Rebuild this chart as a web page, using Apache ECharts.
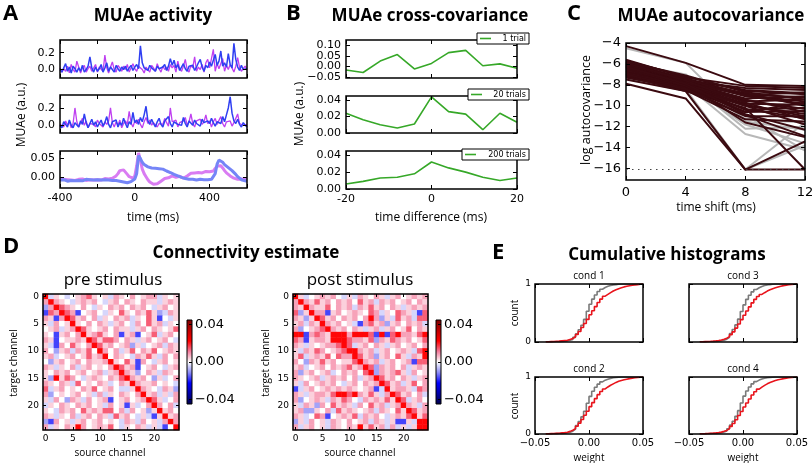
<!DOCTYPE html>
<html>
<head>
<meta charset="utf-8">
<script src="https://cdn.jsdelivr.net/npm/echarts@6/dist/echarts.min.js"></script>
<style>
  html, body { margin: 0; padding: 0; background: #fff; }
  #chart { width: 812px; height: 463px; }
</style>
</head>
<body>
<div id="chart"></div>
<script>
// ---------- A: MUAe activity (time in ms, 10 ms samples) ----------
var timeMs = [
  -400,-390,-380,-370,-360,-350,-340,-330,-320,-310,
  -300,-290,-280,-270,-260,-250,-240,-230,-220,-210,
  -200,-190,-180,-170,-160,-150,-140,-130,-120,-110,
  -100,-90,-80,-70,-60,-50,-40,-30,-20,-10,
  0,10,20,30,40,50,60,70,80,90,
  100,110,120,130,140,150,160,170,180,190,
  200,210,220,230,240,250,260,270,280,290,
  300,310,320,330,340,350,360,370,380,390,
  400,410,420,430,440,450,460,470,480,490,
  500,510,520,530,540,550,560,570,580,590,
  600
];
var trial1Magenta = [
  0.02,-0.03,0.01,-0.02,0.04,-0.04,0.06,0.00,-0.03,0.10,
  0.03,-0.04,0.02,0.05,-0.03,0.01,0.04,-0.02,0.00,0.06,
  -0.03,0.03,0.01,-0.02,0.17,0.02,-0.04,0.03,0.09,0.00,
  -0.03,0.05,0.02,-0.02,0.04,0.00,0.06,-0.03,0.02,0.07,
  0.01,-0.02,0.04,0.06,0.00,-0.04,0.03,0.01,-0.03,0.05,
  0.02,-0.02,0.07,0.01,-0.03,0.04,0.00,0.03,-0.02,0.06,
  0.02,0.05,-0.03,0.10,0.01,-0.02,0.04,0.12,0.00,-0.03,
  0.05,0.02,0.15,-0.02,0.03,0.00,0.06,-0.03,0.08,0.12,
  0.02,0.04,0.24,-0.02,0.07,0.01,0.03,0.13,-0.02,0.05,
  0.00,0.06,0.02,-0.03,0.04,0.14,0.03,-0.02,0.01,0.04,
  0.00
];
var trial1Blue = [
  0.00,-0.03,0.02,0.07,-0.02,0.03,-0.04,0.04,0.01,-0.03,
  0.02,-0.02,0.05,-0.03,0.00,0.04,0.15,0.02,-0.03,0.03,
  -0.02,0.01,0.06,-0.03,0.02,0.08,-0.02,0.03,0.00,-0.03,
  0.05,0.01,-0.02,0.03,0.00,0.04,-0.02,0.02,0.05,-0.01,
  0.03,0.06,0.01,0.28,0.08,0.02,0.04,-0.01,0.05,0.02,
  0.03,-0.02,0.04,0.01,0.00,0.03,0.06,-0.01,0.04,0.13,
  0.05,0.11,0.02,0.06,-0.01,0.03,0.07,0.01,-0.02,0.04,
  0.02,0.05,-0.01,0.03,0.08,0.12,0.03,-0.02,0.05,0.02,
  0.09,0.04,0.06,0.18,0.05,0.10,0.22,0.04,0.08,0.03,
  0.19,0.06,0.02,0.31,0.12,0.03,-0.01,0.05,0.00,-0.02,
  0.01
];
var trial2Magenta = [
  0.01,0.03,-0.02,0.05,0.00,0.04,-0.03,0.02,0.20,0.04,
  -0.02,0.03,0.08,0.00,0.05,-0.03,0.02,0.04,0.01,-0.02,
  0.06,0.02,0.03,-0.02,0.04,0.01,0.05,0.20,0.03,-0.02,
  0.04,0.00,0.06,-0.03,0.02,0.05,0.01,0.16,0.03,-0.02,
  0.05,0.02,0.07,0.01,-0.03,0.04,0.09,0.02,0.06,0.00,
  0.03,0.05,-0.02,0.02,0.04,0.01,0.08,0.03,-0.01,0.20,
  0.04,0.02,0.06,-0.02,0.03,0.01,0.05,0.09,0.00,0.04,
  0.13,0.02,-0.02,0.05,0.03,0.07,0.01,0.04,0.12,0.02,
  0.05,-0.02,0.04,0.08,0.01,0.03,0.10,0.02,-0.02,0.04,
  0.02,0.05,-0.01,0.03,0.01,0.13,0.02,0.04,0.00,-0.02,
  0.01
];
var trial2Blue = [
  0.00,-0.03,0.04,0.01,-0.02,0.06,0.00,-0.03,0.03,0.02,
  -0.02,0.05,0.01,0.13,0.03,-0.03,0.02,0.07,0.00,0.04,
  -0.02,0.02,0.06,-0.01,0.03,0.10,0.01,-0.03,0.04,0.02,
  0.06,-0.02,0.03,0.00,0.08,0.02,-0.03,0.04,0.01,0.15,
  0.03,0.06,0.01,0.09,0.04,0.12,0.22,0.05,0.01,0.07,
  0.02,-0.02,0.04,0.08,0.01,-0.02,0.05,0.03,0.10,0.02,
  -0.02,0.04,0.06,0.01,0.03,0.00,0.09,0.02,-0.02,0.05,
  0.03,0.00,0.06,0.02,0.04,-0.01,0.07,0.03,0.01,0.05,
  0.02,0.08,0.03,-0.01,0.04,0.06,0.02,0.10,0.04,0.12,
  0.20,0.33,0.14,0.05,0.02,0.07,0.01,-0.02,0.03,0.00,
  -0.02
];
var meanMagenta = [
  -0.004,-0.007,-0.005,-0.008,-0.006,-0.004,-0.007,-0.005,-0.008,-0.006,
  -0.005,-0.007,-0.004,-0.006,-0.008,-0.005,-0.006,-0.004,-0.007,-0.005,
  -0.006,-0.004,-0.007,-0.005,-0.003,-0.006,-0.004,-0.005,-0.002,0.000,
  0.004,0.010,0.018,0.022,0.020,0.016,0.008,0.002,-0.003,-0.002,
  0.004,0.030,0.065,0.045,0.022,0.010,0.002,-0.006,-0.012,-0.016,
  -0.018,-0.019,-0.017,-0.014,-0.010,-0.006,-0.003,-0.002,-0.001,0.002,
  0.004,0.002,0.000,0.001,0.003,0.000,-0.002,0.001,0.004,0.008,
  0.011,0.013,0.012,0.014,0.013,0.015,0.012,0.014,0.016,0.013,
  0.015,0.014,0.017,0.024,0.030,0.033,0.031,0.025,0.018,0.012,
  0.008,0.004,0.001,-0.002,-0.004,-0.005,-0.006,-0.004,-0.006,-0.005,
  -0.006
];
var meanBlue = [
  -0.007,-0.009,-0.006,-0.008,-0.010,-0.007,-0.008,-0.006,-0.009,-0.007,
  -0.008,-0.006,-0.009,-0.007,-0.005,-0.008,-0.006,-0.009,-0.007,-0.008,
  -0.006,-0.008,-0.007,-0.009,-0.006,-0.008,-0.007,-0.005,-0.008,-0.007,
  -0.008,-0.009,-0.010,-0.011,-0.012,-0.013,-0.014,-0.013,-0.011,-0.008,
  -0.004,0.010,0.058,0.050,0.040,0.034,0.030,0.028,0.027,0.025,
  0.026,0.024,0.025,0.023,0.021,0.022,0.019,0.017,0.015,0.013,
  0.010,0.008,0.006,0.004,0.002,0.000,-0.002,-0.003,-0.004,-0.005,
  -0.006,-0.005,-0.006,-0.007,-0.006,-0.005,-0.007,-0.006,-0.005,-0.006,
  -0.007,-0.005,-0.002,0.010,0.035,0.046,0.044,0.040,0.034,0.030,
  0.026,0.022,0.018,0.014,0.008,0.002,-0.003,-0.006,-0.008,-0.009,
  -0.010
];

// ---------- B: cross-covariance ----------
var lagMs = [-20,-16,-12,-8,-4,0,4,8,12,16,20];
var cov1Trial = [-0.017,-0.029,0.025,0.056,-0.012,0.014,0.065,0.076,0.003,0.012,-0.009];
var cov20Trials = [0.024,0.016,0.010,0.006,0.011,0.044,0.026,0.023,0.004,0.024,0.013];
var cov200Trials = [0.006,0.009,0.013,0.014,0.018,0.032,0.025,0.020,0.014,0.010,0.013];

// ---------- C: log autocovariance per channel ----------
var shiftMs = [0,4,8,12];
var autocovDark = [
  [-4.3,-5.9,-8.0,-8.1],[-5.6,-7.3,-8.1,-8.3],[-5.8,-7.5,-8.5,-8.8],[-5.9,-7.4,-8.9,-9.2],
  [-6.0,-7.6,-8.3,-8.5],[-6.1,-7.7,-9.0,-9.6],[-6.2,-7.6,-8.8,-10.0],[-6.3,-7.8,-9.3,-9.1],
  [-6.4,-7.9,-9.5,-10.3],[-6.5,-8.0,-9.8,-9.9],[-6.6,-8.1,-10.0,-10.8],[-6.7,-8.2,-10.3,-11.2],
  [-6.8,-8.0,-9.6,-9.4],[-6.9,-8.3,-10.6,-10.5],[-7.0,-8.4,-11.0,-11.0],[-7.2,-8.5,-11.3,-11.5],
  [-7.1,-8.6,-10.2,-16.1],[-7.5,-8.6,-16.1,-13.4],[-7.9,-9.3,-16.1,-16.1],[-6.0,-7.9,-11.6,-13.0],
  [-5.7,-7.2,-8.6,-8.9],[-6.1,-7.5,-9.1,-9.8],[-6.5,-7.7,-9.4,-10.6],[-5.8,-7.1,-8.7,-9.4],
  [-6.9,-8.1,-9.9,-11.0],[-6.2,-8.0,-10.4,-10.2],[-7.0,-8.3,-10.0,-11.8],[-6.6,-7.8,-9.0,-8.7],
  [-7.3,-8.4,-10.9,-12.9],[-5.9,-7.6,-9.7,-11.3],[-6.4,-8.1,-10.6,-9.7],[-6.3,-7.9,-10.8,-12.3]
];
var autocovGray = [
  [-5.9,-7.0,-11.3,-11.6],[-6.3,-7.6,-12.2,-12.0],[-6.8,-8.0,-12.7,-14.2],[-7.1,-8.4,-16.1,-11.6],
  [-7.4,-8.6,-16.1,-13.8],[-4.5,-5.9,-11.5,-12.3],[-6.6,-7.9,-11.8,-13.6],[-6.2,-7.7,-10.9,-14.3]
];
var floorLevel = -16.1;

// ---------- D: connectivity (25 x 25), one string per target channel ----------
var channels = [0,1,2,3,4,5,6,7,8,9,10,11,12,13,14,15,16,17,18,19,20,21,22,23,24];
var levelValue = { B: -0.017, b: -0.009, c: -0.004, '0': 0, '1': 0.004, '2': 0.008, '3': 0.014, '4': 0.022 };
var preRows = [
  '4c10c 01231 01c21 02012 2c101','24210 c1212 0c120 21021 1c121','b2432 1020c 10212 02120 c1201',
  'B3243 2B012 0c103 10213 1bc21','21B24 31202 c1021 2c103 1B0c1','1c201 41020 21c12 0c203 12c10',
  '012c1 24310 12021 1c120 21013','10B12 02412 3102B 12B01 3c120','21B01 12143 13320 21c12 0120c',
  '1cB20 31024 31201 2b1c0 12c21','20b12 c2130 4202c 13021 30121','12c01 20131 24021 0c213 1c202',
  '0b120 12021 12410 31B20 c1201','21c10 2c120 10243 12B01 20c12','10212 01201 2c124 21b02 1c210',
  '1b413 20c12 10213 42120 b1c02','21021 c3010 21c02 14211 2010c','3c120 10213 0120c c1421 0c21b',
  '2b010 1201c 2c102 10241 2c1c2','1c20b 21c20 12B01 20124 31c02','c1021 02120 1c201 B1c02 4202c',
  '10c21 20312 13302 c201b 14120','21c10 2c120 21c31 20c1c B1412','bB201 c1201 2010c 21c20 1c242',
  '2c102 14201 2130c 1021c 1cB04'
];
var postRows = [
  '41c01 2120c 1c210 21c12 01212','24213 12021 20312 c2120 12021','21421 13021 2c213 12021 c1212',
  '3b142 2B120 12103 2c103 21cB3','21b14 31202 12024 2b1c3 12c33','12c21 42120 1cB23 12b12 0212c',
  '2b012 34212 021c1 2c120 13021','44B23 21444 24443 B4B34 22134','32B12 21444 32213 b2132 12013',
  '21c10 12234 3c120 21c12 01202','1c213 20123 44212 c1201 21c34','13c12 13032 24312 b1203 1c214',
  '20b21 31201 13421 2c120 12B33','12c01 20212 31243 b2120 2c121','2b120 12c02 12034 b2123 1c201',
  '21012 c1212 02c12 43120 21c12','1c201 2120c 12021 24312 c1302','Bc120 12121 21012 Bc412 21c32',
  '21c12 21344 34213 1c243 1202c','2b012 1c213 20c21 21314 3c120','1c21b 20312 1c203 12c12 421c2',
  '12bb1 02c31 21012 c2103 14312','21c03 2B012 13c21 20c12 13413','b1c20 1c210 2012c 21c1B B1c44',
  '2c120 1c210 21413 12c2c 1c144'
];
var colorbarTicks = [-0.04, 0, 0.04];

// ---------- E: cumulative histograms of weights ----------
var weightBins = [-0.04,-0.0375,-0.035,-0.0325,-0.03,-0.0275,-0.025,-0.0225,-0.02,-0.0175,-0.015,-0.0125,-0.01,-0.0075,-0.005,-0.0025,0,0.0025,0.005,0.0075,0.01,0.0125,0.015,0.0175,0.02,0.0225,0.025,0.0275,0.03,0.0325,0.035,0.0375,0.04,0.0425,0.045,0.0475,0.05];
var cond1Gray = [0.002,0.003,0.004,0.005,0.007,0.010,0.014,0.020,0.030,0.045,0.080,0.140,0.210,0.290,0.390,0.530,0.650,0.740,0.810,0.870,0.910,0.940,0.960,0.975,0.985,0.990,0.995,1,1,1,1,1,1,1,1,1,1];
var cond1Red = [0.005,0.007,0.009,0.012,0.015,0.020,0.025,0.030,0.045,0.060,0.090,0.130,0.180,0.250,0.320,0.390,0.470,0.540,0.610,0.680,0.740,0.790,0.820,0.850,0.880,0.900,0.920,0.935,0.950,0.960,0.970,0.980,0.985,0.990,0.995,1,1];
var cond2Gray = [0.002,0.003,0.004,0.006,0.008,0.011,0.015,0.022,0.032,0.050,0.085,0.150,0.220,0.300,0.400,0.540,0.660,0.750,0.820,0.875,0.915,0.945,0.962,0.976,0.986,0.992,0.996,1,1,1,1,1,1,1,1,1,1];
var cond2Red = [0.004,0.006,0.008,0.011,0.014,0.019,0.024,0.032,0.046,0.065,0.095,0.135,0.190,0.255,0.330,0.400,0.480,0.550,0.620,0.690,0.745,0.790,0.825,0.855,0.880,0.905,0.925,0.940,0.952,0.962,0.972,0.980,0.986,0.991,0.995,1,1];
var cond3Gray = [0.002,0.003,0.004,0.005,0.007,0.010,0.015,0.021,0.031,0.048,0.082,0.145,0.215,0.295,0.395,0.525,0.640,0.735,0.805,0.865,0.905,0.935,0.958,0.974,0.984,0.990,0.995,1,1,1,1,1,1,1,1,1,1];
var cond3Red = [0.005,0.007,0.009,0.012,0.016,0.021,0.027,0.034,0.048,0.064,0.092,0.128,0.175,0.240,0.310,0.385,0.460,0.535,0.605,0.675,0.735,0.785,0.820,0.850,0.878,0.900,0.920,0.936,0.950,0.962,0.972,0.980,0.986,0.991,0.995,1,1];
var cond4Gray = [0.002,0.003,0.004,0.006,0.008,0.011,0.016,0.023,0.034,0.052,0.090,0.155,0.225,0.310,0.410,0.545,0.665,0.755,0.825,0.880,0.918,0.946,0.964,0.977,0.987,0.992,0.996,1,1,1,1,1,1,1,1,1,1];
var cond4Red = [0.004,0.006,0.009,0.012,0.015,0.020,0.026,0.033,0.047,0.063,0.094,0.133,0.185,0.250,0.325,0.395,0.475,0.545,0.615,0.685,0.742,0.788,0.822,0.852,0.880,0.902,0.922,0.938,0.951,0.961,0.971,0.980,0.986,0.991,0.995,1,1];

// ---------- helpers ----------
var tickFont = 'DejaVu Sans';
var grids = [], xAxes = [], yAxes = [], series = [], graphics = [];

function minus(s) { return s.replace('-', '\u2212'); }
function fmt(d, uni) { return function (v) { var s = (+v).toFixed(d); return uni ? minus(s) : s; }; }

function valAxis(gi, pos, o, withLabel, labels) {
  var lab = labels || o.labels;
  return {
    type: 'value', gridIndex: gi, position: pos, min: o.min, max: o.max, z: 5,
    axisLine: { show: false, onZero: false }, splitLine: { show: false },
    axisTick: { show: !labels, inside: true, length: o.tickLen || 4, customValues: o.ticks, lineStyle: { color: '#000', width: 1 } },
    axisLabel: {
      show: !!(withLabel && lab), customValues: lab || o.ticks, formatter: o.fmt,
      hideOverlap: false, showMinLabel: true, showMaxLabel: true,
      fontSize: o.size || 11, fontFamily: tickFont, color: '#000', margin: o.margin || 5
    }
  };
}
function addGrid(r, bw) {
  grids.push({ left: r[0], top: r[1], width: r[2], height: r[3], show: true, borderColor: '#000',
    borderWidth: bw || 1.5, backgroundColor: 'transparent', z: 4, outerBoundsMode: 'none', containLabel: false });
  return grids.length - 1;
}
function panel(r, xo, yo) {
  var gi = addGrid(r);
  var ax = { x: xAxes.length, y: yAxes.length };
  xAxes.push(valAxis(gi, 'bottom', xo, true), valAxis(gi, 'top', xo, false));
  yAxes.push(valAxis(gi, 'left', yo, true), valAxis(gi, 'right', yo, false));
  // crowded tick labels are split over a second, tick-less left axis
  if (yo.labels2) yAxes.push(valAxis(gi, 'left', yo, true, yo.labels2));
  return ax;
}
function line(ax, xs, ys, color, width, extra) {
  return Object.assign({
    type: 'line', xAxisIndex: ax.x, yAxisIndex: ax.y, silent: true, symbol: 'none', showSymbol: false,
    data: xs.map(function (x, i) { return [x, ys[i]]; }),
    lineStyle: { color: color, width: width }, itemStyle: { color: color }, z: 2
  }, extra || {});
}
function txt(s, x, y, font, opt) {
  opt = opt || {};
  return { type: 'text', x: x, y: y, rotation: opt.rot || 0, z: 30, silent: true,
    style: { text: s, font: font, fill: '#000', align: opt.align || 'center', verticalAlign: 'middle' } };
}

// ---------- A ----------
var aX = { min: -400, max: 600, ticks: [-400,-200,0,200,400,600], fmt: fmt(0, false), size: 11 };
var aXnl = Object.assign({}, aX, { labels: null });
var aX3 = Object.assign({}, aX, { labels: [-400, 0, 400] });
var aY = { min: -0.1, max: 0.35, ticks: [0, 0.2], labels: [0, 0.2], fmt: fmt(1, false), size: 11 };
var aY2 = Object.assign({}, aY, { min: -0.09 });
var aY3 = { min: -0.028, max: 0.07, ticks: [0, 0.05], labels: [0, 0.05], fmt: fmt(2, false), size: 11 };
var A1 = panel([60, 40, 187, 38], aXnl, aY);
var A2 = panel([60, 95, 187, 38], aXnl, aY2);
var A3 = panel([60, 151, 187, 37], aX3, aY3);
series.push(line(A1, timeMs, trial1Magenta, '#bf3ff0', 1.3));
series.push(line(A1, timeMs, trial1Blue, '#2f3ff2', 1.5));
series.push(line(A2, timeMs, trial2Magenta, '#bf3ff0', 1.3));
series.push(line(A2, timeMs, trial2Blue, '#2f3ff2', 1.5));
series.push(line(A3, timeMs, meanMagenta, '#d97cf2', 3));
series.push(line(A3, timeMs, meanBlue, '#7585f7', 3));

// ---------- B ----------
var bX = { min: -20, max: 20, ticks: [-20, 0, 20], fmt: fmt(0, false), size: 11 };
var bXnl = Object.assign({}, bX, { labels: null });
var bX3 = Object.assign({}, bX, { labels: [-20, 0, 20] });
var B1 = panel([346, 40, 171, 38], bXnl, { min: -0.055, max: 0.125, ticks: [-0.05, 0, 0.05, 0.1], labels: [-0.05, 0.05], labels2: [0, 0.1], fmt: fmt(2, true), size: 11 });
var B2 = panel([346, 96, 171, 37], bXnl, { min: 0, max: 0.045, ticks: [0, 0.02, 0.04], labels: [0, 0.02, 0.04], fmt: fmt(2, true), size: 11 });
var B3 = panel([346, 151, 171, 38], bX3, { min: 0, max: 0.045, ticks: [0, 0.02, 0.04], labels: [0, 0.02, 0.04], fmt: fmt(2, true), size: 11 });
var green = '#36a828';
series.push(line(B1, lagMs, cov1Trial, green, 1.6));
series.push(line(B2, lagMs, cov20Trials, green, 1.6));
series.push(line(B3, lagMs, cov200Trials, green, 1.6));
[[477, 33, '1 trial'], [468, 89, '20 trials'], [462, 149, '200 trials']].forEach(function (l) {
  graphics.push({ type: 'rect', z: 25, silent: true, shape: { x: l[0], y: l[1], width: 529 - l[0], height: 11 },
    style: { fill: '#fff', stroke: '#000', lineWidth: 1 } });
  graphics.push({ type: 'line', z: 26, silent: true, shape: { x1: l[0] + 3, y1: l[1] + 5.5, x2: l[0] + 14, y2: l[1] + 5.5 },
    style: { stroke: green, lineWidth: 1.6 } });
  graphics.push(txt(l[2], 526, l[1] + 5.5, '8px "DejaVu Sans"', { align: 'right' }));
});

// ---------- C ----------
var C = panel([626, 43, 179, 137],
  { min: 0, max: 12, ticks: [0, 4, 8, 12], labels: [0, 4, 8, 12], fmt: fmt(0, false), size: 13, margin: 6 },
  { min: -17.1, max: -4, ticks: [-16,-14,-12,-10,-8,-6,-4], labels: [-16,-14,-12,-10,-8,-6,-4], fmt: fmt(0, true), size: 13, margin: 5 });
autocovGray.forEach(function (r, i) {
  var s = line(C, shiftMs, r, '#b8b8b8', 2);
  if (i === 0) {
    s.markLine = { silent: true, symbol: 'none', label: { show: false }, animation: false,
      lineStyle: { type: [1.5, 4.5], color: '#444', width: 1.2 }, data: [{ yAxis: floorLevel }] };
  }
  series.push(s);
});
autocovDark.forEach(function (r) { series.push(line(C, shiftMs, r, '#3b0a10', 2)); });

// ---------- D ----------
function catAxis(gi, pos, withLabel, inverse) {
  return {
    type: 'category', gridIndex: gi, position: pos, data: channels, inverse: inverse, z: 5,
    axisLine: { show: false, onZero: false }, splitLine: { show: false }, splitArea: { show: false },
    axisTick: { show: true, inside: true, length: 3, alignWithLabel: true, interval: 4, lineStyle: { color: '#000' } },
    axisLabel: { show: withLabel, interval: 4, fontSize: 9, fontFamily: tickFont, color: '#000', margin: 4 }
  };
}
function heatPanel(r, rows) {
  var gi = addGrid(r);
  var ax = { x: xAxes.length, y: yAxes.length };
  xAxes.push(catAxis(gi, 'bottom', true, false), catAxis(gi, 'top', false, false));
  yAxes.push(catAxis(gi, 'left', true, true), catAxis(gi, 'right', false, true));
  var data = [];
  rows.forEach(function (row, y) {
    row.replace(/ /g, '').split('').forEach(function (ch, x) { data.push([x, y, levelValue[ch]]); });
  });
  series.push({ type: 'heatmap', xAxisIndex: ax.x, yAxisIndex: ax.y, data: data, silent: true, z: 2,
    itemStyle: { borderWidth: 0 } });
  return series.length - 1;
}
function colorbar(r) {
  var gi = addGrid(r, 1);
  xAxes.push({ type: 'value', gridIndex: gi, show: false, min: 0, max: 1 });
  yAxes.push({ type: 'value', gridIndex: gi, position: 'right', min: -0.045, max: 0.045, z: 5,
    axisLine: { show: false, onZero: false }, splitLine: { show: false },
    axisTick: { show: true, inside: true, length: 3, customValues: colorbarTicks, lineStyle: { color: '#000' } },
    axisLabel: { customValues: colorbarTicks, formatter: fmt(2, true), hideOverlap: false, showMinLabel: true, showMaxLabel: true,
      fontSize: 13, fontFamily: tickFont, color: '#000', margin: 3 } });
  graphics.push({ type: 'rect', z: 1, silent: true, shape: { x: r[0], y: r[1], width: r[2], height: r[3] },
    style: { fill: { type: 'linear', x: 0, y: 0, x2: 0, y2: 1, colorStops: [
      { offset: 0, color: '#800000' }, { offset: 0.125, color: '#c00000' }, { offset: 0.25, color: '#ff0000' },
      { offset: 0.375, color: '#f47c9c' }, { offset: 0.5, color: '#ffffff' }, { offset: 0.625, color: '#8c8cf6' },
      { offset: 0.75, color: '#0000ff' }, { offset: 0.875, color: '#0000a8' }, { offset: 1, color: '#00004d' } ] } } });
}
var hmPre = heatPanel([43, 294, 136, 136], preRows);
var hmPost = heatPanel([293, 294, 135, 136], postRows);
colorbar([187, 320, 5, 84]);
colorbar([436, 320, 5, 84]);

// ---------- E ----------
var eX = { min: -0.05, max: 0.05, ticks: [-0.05, 0, 0.05], fmt: fmt(2, true), size: 10, margin: 4 };
var eXnl = Object.assign({}, eX, { labels: null });
var eXl = Object.assign({}, eX, { labels: [-0.05, 0, 0.05] });
var eY = { min: 0, max: 1, ticks: [0, 1], labels: [0, 1], fmt: fmt(0, false), size: 9, margin: 4 };
var eYnl = Object.assign({}, eY, { labels: null });
var E1 = panel([535, 284, 108, 58], eXnl, eY);
var E3 = panel([689, 284, 108, 58], eXnl, eYnl);
var E2 = panel([535, 377, 108, 57], eXl, eY);
var E4 = panel([689, 377, 108, 57], eXl, eYnl);
[[E1, cond1Gray, cond1Red], [E3, cond3Gray, cond3Red], [E2, cond2Gray, cond2Red], [E4, cond4Gray, cond4Red]].forEach(function (p) {
  series.push(line(p[0], weightBins, p[1], '#7a7a7a', 1.6, { step: 'end' }));
  series.push(line(p[0], weightBins, p[2], '#e8141c', 1.6, { step: 'end' }));
});

// ---------- texts ----------
var head = 'bold 17px "Open Sans"', letter = 'bold 22px "Open Sans"';
graphics.push(
  txt('A', 3, 14, letter, { align: 'left' }), txt('MUAe activity', 153, 16, head),
  txt('B', 286, 14, letter, { align: 'left' }), txt('MUAe cross-covariance', 430, 16, head),
  txt('C', 567, 14, letter, { align: 'left' }), txt('MUAe autocovariance', 711, 16, head),
  txt('D', 3, 247, letter, { align: 'left' }), txt('Connectivity estimate', 246, 253, head),
  txt('E', 492, 253, letter, { align: 'left' }), txt('Cumulative histograms', 667, 255, head),
  txt('pre stimulus', 113, 280, '17px "Open Sans"'), txt('post stimulus', 360, 280, '17px "Open Sans"'),
  txt('time (ms)', 153, 218, '12px "Open Sans"'), txt('time difference (ms)', 431, 218, '12px "Open Sans"'),
  txt('time shift (ms)', 716, 208, '12px "Open Sans"'),
  txt('MUAe (a.u.)', 22, 115, '12px "Open Sans"', { rot: Math.PI / 2 }),
  txt('MUAe (a.u.)', 300, 114, '12px "Open Sans"', { rot: Math.PI / 2 }),
  txt('log autocovariance', 586, 110, '12.5px "Open Sans"', { rot: Math.PI / 2 }),
  txt('target channel', 14, 363, '10px "Open Sans"', { rot: Math.PI / 2 }),
  txt('target channel', 266, 363, '10px "Open Sans"', { rot: Math.PI / 2 }),
  txt('source channel', 110, 453, '10px "Open Sans"'), txt('source channel', 360, 453, '10px "Open Sans"'),
  txt('cond 1', 589, 276, '10px "Open Sans"'), txt('cond 3', 743, 276, '10px "Open Sans"'),
  txt('cond 2', 589, 369, '10px "Open Sans"'), txt('cond 4', 743, 369, '10px "Open Sans"'),
  txt('count', 515, 313, '10px "Open Sans"', { rot: Math.PI / 2 }),
  txt('count', 515, 406, '10px "Open Sans"', { rot: Math.PI / 2 }),
  txt('weight', 589, 458, '10px "Open Sans"'), txt('weight', 743, 458, '10px "Open Sans"')
);

var chart = echarts.init(document.getElementById('chart'), null, { renderer: 'canvas' });
chart.setOption({
  animation: false,
  backgroundColor: '#fff',
  textStyle: { fontFamily: tickFont },
  grid: grids,
  xAxis: xAxes,
  yAxis: yAxes,
  visualMap: [{
    type: 'continuous', show: false, min: -0.045, max: 0.045, seriesIndex: [hmPre, hmPost],
    inRange: { color: ['#00004d', '#0000a8', '#0000ff', '#8c8cf6', '#ffffff', '#f47c9c', '#ff0000', '#c00000', '#800000'] }
  }],
  series: series,
  graphic: { elements: graphics }
});
</script>
</body>
</html>
